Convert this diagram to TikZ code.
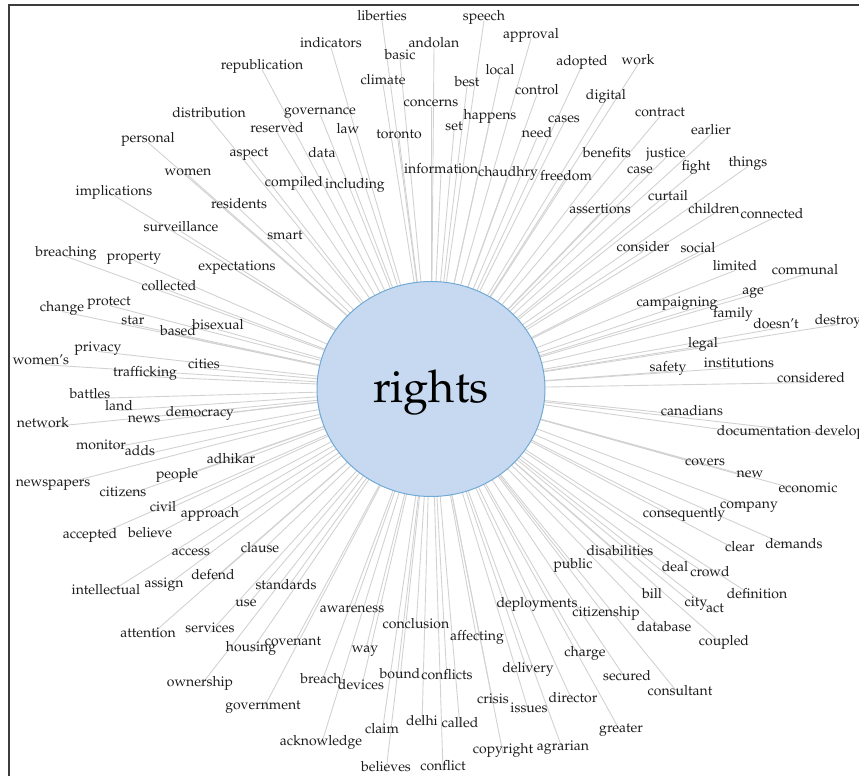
\documentclass[tikz,border=0pt]{standalone}
\usepackage[T1]{fontenc}
\renewcommand{\rmdefault}{ppl}
\usetikzlibrary{shapes.geometric}
\pgfdeclarelayer{bg}
\pgfsetlayers{bg,main}
\definecolor{linegray}{HTML}{D2D2D2}
\definecolor{hubfill}{HTML}{C6D9F0}
\definecolor{hubdraw}{HTML}{72AAD6}
\definecolor{framegray}{HTML}{3C3C3C}
\definecolor{wordcol}{HTML}{1C1C1C}
\tikzset{
  word/.style={anchor=base, inner sep=0pt, text=wordcol, font=\fontsize{14}{16}\selectfont},
  link/.style={draw=linegray, line width=0.9pt},
  hub/.style={ellipse, draw=hubdraw, line width=1pt, fill=hubfill, minimum width=228pt, minimum height=215pt, inner sep=0pt},
  hubtext/.style={anchor=base, inner sep=0pt, text=black, font=\fontsize{45}{50}\selectfont},
  frame/.style={draw=framegray, line width=1.6pt}
}
\begin{document}
\begin{tikzpicture}[x=1pt, y=-1pt]
\useasboundingbox (0,0) rectangle (859,776);
\coordinate (ctr) at (431,389);
\foreach \x/\y/\t [count=\i] in {
382/16/liberties, 484/16/speech, 531/34/approval, 331/43/indicators, 434/43/andolan,
400/55/basic, 262/65/republication, 582/61/adopted, 638/60/work, 383/80/climate,
467/82/best, 500/70/local, 537/90/control, 606/95/digital, 431/102/concerns,
209/113/distribution, 320/110/governance, 490/115/happens, 564/118/cases, 660/112/contract,
277/128/reserved, 348/129/law, 399/134/toronto, 454/126/set, 537/133/need,
711/130/earlier, 148/138/personal, 249/152/aspect, 322/153/data, 607/153/benefits,
666/153/justice, 640/169/case, 696/166/fight, 748/162/things, 188/171/women,
441/169/information, 508/172/chaudhry, 566/176/freedom, 294/182/compiled, 355/184/including,
114/191/implications, 239/204/residents, 600/209/assertions, 668/196/curtail, 714/209/children,
772/214/connected, 181/227/surveillance, 285/235/smart, 66/252/breaching, 134/256/property,
237/266/expectations, 643/247/consider, 698/248/social, 735/266/limited, 805/270/communal,
169/286/collected, 109/301/protect, 62/307/change, 677/302/campaigning, 753/290/age,
133/320/star, 178/331/based, 218/325/bisexual, 733/313/family, 776/324/doesn't,
838/320/destroy, 98/347/privacy, 41/360/women's, 703/343/legal, 145/372/trafficking,
204/364/cities, 668/367/safety, 739/363/institutions, 811/378/considered, 90/394/battles,
119/406/land, 144/418/news, 200/412/democracy, 43/423/network, 692/411/canadians,
764/431/documentation, 840/431/develop, 101/445/monitor, 140/451/adds, 231/459/adhikar,
705/461/covers, 750/473/new, 177/474/people, 53/482/newspapers, 123/492/citizens,
808/488/economic, 163/507/civil, 210/513/approach, 749/504/company, 684/513/consequently,
90/534/accepted, 150/533/believe, 191/551/access, 260/548/clause, 740/547/clear,
794/544/demands, 620/551/disabilities, 573/564/public, 675/567/deal, 710/572/crowd,
106/590/intellectual, 164/583/assign, 213/575/defend, 286/585/standards, 652/594/bill,
696/602/city, 715/608/act, 757/594/definition, 246/602/use, 537/603/deployments,
606/612/citizenship, 352/608/awareness, 148/633/attention, 210/628/services, 251/647/housing,
293/641/covenant, 416/624/conclusion, 477/636/affecting, 664/627/database, 724/641/coupled,
365/648/way, 585/652/charge, 400/674/bound, 447/675/conflicts, 528/668/delivery,
321/679/breach, 361/685/devices, 627/676/secured, 200/682/ownership, 680/691/consultant,
493/699/crisis, 529/708/issues, 573/698/director, 263/705/government, 422/721/delhi,
460/723/called, 382/729/claim, 621/728/greater, 321/741/acknowledge, 503/749/copyright,
563/746/agrarian, 386/767/believes, 443/766/conflict}{
  \node[word] (w\i) at ({\x},{\y+4.5}) {\t};
  \begin{pgfonlayer}{bg}
    \draw[link] (ctr) -- (w\i.base);
  \end{pgfonlayer}
}
\node[hub] (hub) at (ctr) {};
\node[hubtext] (label) at (431,402) {rights};
\draw[frame] (9,776) -- (9,5) -- (859,5);
\end{tikzpicture}
\end{document}
